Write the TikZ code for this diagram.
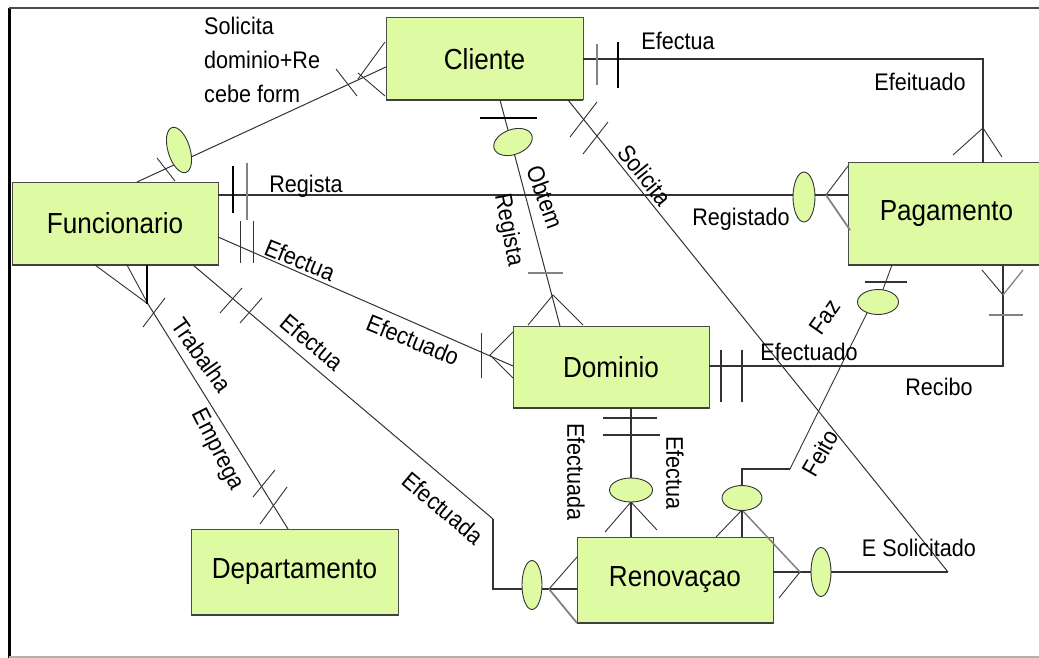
\documentclass[tikz,border=0pt]{standalone}
\usepackage{fontspec}
\newfontfamily\entfont{Liberation Sans}[FakeStretch=0.9]
\usetikzlibrary{shapes.geometric}
\definecolor{entgreen}{RGB}{222,250,162}
\definecolor{ln}{RGB}{50,50,50}
\definecolor{lg}{RGB}{130,130,130}
\begin{document}
\begin{tikzpicture}[x=1pt,y=-1pt,
 entity/.style={draw=black!70, line width=1pt, fill=entgreen, rectangle, inner sep=0pt, outer sep=0pt, font=\entfont\fontsize{29}{34}\selectfont},
 rel/.style={ellipse, draw=black!80, line width=0.9pt, fill=entgreen, inner sep=0pt, outer sep=0pt},
 lbl/.style={font=\entfont\fontsize{24}{30}\selectfont, inner sep=0pt, text=black},
 conn/.style={draw=ln, line width=1pt},
 ortho/.style={draw=ln, line width=1.8pt},
 thinln/.style={draw=ln, line width=0.9pt},
 grayleg/.style={draw=lg, line width=1.8pt},
 barthick/.style={draw=black, line width=2.4pt},
 bargray/.style={draw=lg, line width=2.4pt},
 shadowedge/.style={draw=black!75, line width=2.6pt},
]
\useasboundingbox (0,0) rectangle (1039,658);
% frame
\draw[black, line width=3pt] (9,8) -- (9,660);
\draw[black!70, line width=2.5pt] (9,8) -- (1045,8);
\draw[black!30, line width=2pt] (9,657) -- (1045,657);

% entities
\node[entity, minimum width=197pt, minimum height=82pt] (cli) at (484.5,59) {Cliente};
\node[entity, minimum width=206pt, minimum height=83pt] (fun) at (115,223.5) {Funcionario};
\node[entity, minimum width=197pt, minimum height=102pt] (pag) at (946.5,214) {Pagamento};
\node[entity, minimum width=196pt, minimum height=82pt] (dom) at (611,367) {Dominio};
\node[entity, minimum width=207pt, minimum height=86pt] (dep) at (294.5,572) {Departamento};
\node[entity, minimum width=196pt, minimum height=86pt] (ren) at (675,580) {Renova\c{c}ao};
\foreach \n in {cli,fun,pag,dom,dep,ren} \draw[shadowedge] (\n.south west) -- (\n.south east);

% C1 Funcionario - Cliente
\draw[conn] (137,182) -- (386,67);
\draw[thinln] (385,42) -- (358,79);
\draw[thinln] (385,96) -- (358,73);
\draw[thinln] (336,69) -- (357,96);
\draw[thinln] (157,158) -- (175,181);

% C2 Funcionario - Pagamento
\draw[ortho] (218,195) -- (848,195);
\draw[barthick] (233,166) -- (233,213);
\draw[draw=lg, line width=1.3pt] (247,163) -- (247,220);
\draw[thinln] (848,166) -- (826,195);
\draw[grayleg] (826,195) -- (850,230);

% C3 Cliente - Pagamento
\draw[ortho] (583,59) -- (983,59) -- (983,163);
\draw[draw=lg, line width=1.3pt] (597,44) -- (597,85);
\draw[barthick] (618,42) -- (618,88);
\draw[thinln] (953,155) -- (983,128) -- (1002,157);

% C4 Cliente - Renovacao
\draw[conn] (568,100) -- (948,572);
\draw[ortho] (948,572) -- (773,572);
\draw[thinln] (570,137) -- (597,102);
\draw[thinln] (583,154) -- (608,122);
\draw[thinln] (800,572) -- (779,598);
\draw[draw=lg, line width=1.5pt] (742,510) -- (800,572);

% C5 Dominio - Pagamento
\draw[ortho] (709,366) -- (1003,366) -- (1003,265);
\draw[draw=ln, line width=1.3pt] (721,350) -- (721,402);
\draw[draw=ln, line width=1.3pt] (742,350) -- (742,402);
\draw[thinln] (982,270) -- (1003,295);
\draw[draw=lg, line width=1.3pt] (1003,295) -- (1023,270);
\draw[bargray] (989,315) -- (1023,315);

% C6 Funcionario - Dominio
\draw[conn] (218,237) -- (513,366);
\draw[thinln] (240,221) -- (240,263);
\draw[thinln] (253,221) -- (253,263);
\draw[thinln] (513,332) -- (490,355) -- (513,378);
\draw[thinln] (481,333) -- (481,378);

% C7 Funcionario - Renovacao
\draw[conn] (193,265) -- (493,519);
\draw[ortho] (493,519) -- (493,589) -- (577,589);
\draw[thinln] (549,589) -- (577,557);
\draw[grayleg] (549,589) -- (577,623);
\draw[thinln] (220,313) -- (242,288);
\draw[thinln] (240,323) -- (262,298);

% C8 Funcionario - Departamento
\draw[thinln] (95,265) -- (148,304);
\draw[thinln] (127,265) -- (148,304);
\draw[barthick] (147,265) -- (147,304);
\draw[conn] (148,304) -- (288,529);
\draw[thinln] (143,327) -- (165,298);
\draw[thinln] (253,497) -- (275,470);
\draw[thinln] (287,487) -- (260,524);

% C9 Cliente - Dominio
\draw[conn] (500,100) -- (560,326);
\draw[draw=black, line width=2pt] (480,118) -- (537,118);
\draw[bargray] (528,273) -- (563,273);
\draw[thinln] (528,325) -- (553,295) -- (583,325);

% C10 Dominio - Renovacao
\draw[ortho] (631,408) -- (631,537);
\draw[draw=ln, line width=1.5pt] (603,418) -- (657,418);
\draw[draw=ln, line width=1.5pt] (603,435) -- (660,435);
\draw[thinln] (605,532) -- (631,502) -- (657,530);

% C11 Pagamento - Renovacao
\draw[thinln] (892,265) -- (882,292);
\draw[thinln] (867,313) -- (790,469);
\draw[ortho] (790,469) -- (742,469) -- (742,537);
\draw[draw=ln, line width=1.3pt] (865,282) -- (907,282);
\draw[thinln] (742,510) -- (716,537);

% relationship ellipses
\node[rel, minimum width=22pt, minimum height=47pt, rotate=17] (e1) at (179,150) {};
\node[rel, minimum width=40pt, minimum height=25pt, rotate=20] (e2) at (513,142) {};
\node[rel, minimum width=22pt, minimum height=50pt] (e3) at (804,197) {};
\node[rel, minimum width=41pt, minimum height=25pt] (e4) at (878,302) {};
\node[rel, minimum width=43pt, minimum height=24pt] (e5) at (631,490) {};
\node[rel, minimum width=40pt, minimum height=25pt] (e6) at (742,498) {};
\node[rel, minimum width=20pt, minimum height=49pt] (e7) at (532,585) {};
\node[rel, minimum width=20pt, minimum height=49pt] (e8) at (821,572) {};

% labels
\node[lbl, align=left, anchor=north west, font=\entfont\fontsize{24}{34}\selectfont] (lsol) at (204,17) {Solicita\\dominio+Re\\cebe form};
\node[lbl] (lreg1) at (306,186) {Regista};
\node[lbl] (lreg2) at (741,219) {Registado};
\node[lbl] (lefe1) at (678,41) {Efectua};
\node[lbl] (lefe2) at (920,82) {Efeituado};
\node[lbl] (lefe3) at (809,352) {Efectuado};
\node[lbl] (lrec) at (939,387) {Recibo};
\node[lbl] (lesol) at (919,548) {E Solicitado};
\node[lbl, rotate=-22] (lefe4) at (300,260) {Efectua};
\node[lbl, rotate=-22] (lefe5) at (413,340) {Efectuado};
\node[lbl, rotate=-40] (lefe6) at (312,342) {Efectua};
\node[lbl, rotate=-40] (lefe7) at (443,508) {Efectuada};
\node[lbl, rotate=-55] (ltra) at (202,355) {Trabalha};
\node[lbl, rotate=-63] (lemp) at (217,450) {Emprega};
\node[lbl, rotate=-70] (lobt) at (545,197) {Obtem};
\node[lbl, rotate=-79] (lreg3) at (508,230) {Regista};
\node[lbl, rotate=-51] (lsoli) at (645,175) {Solicita};
\node[lbl, rotate=55] (lfaz) at (825,317) {Faz};
\node[lbl, rotate=60] (lfei) at (820,453) {Feito};
\node[lbl, rotate=-90] (lefe8) at (576,472) {Efectuada};
\node[lbl, rotate=-90] (lefe9) at (675,473) {Efectua};
\end{tikzpicture}
\end{document}
